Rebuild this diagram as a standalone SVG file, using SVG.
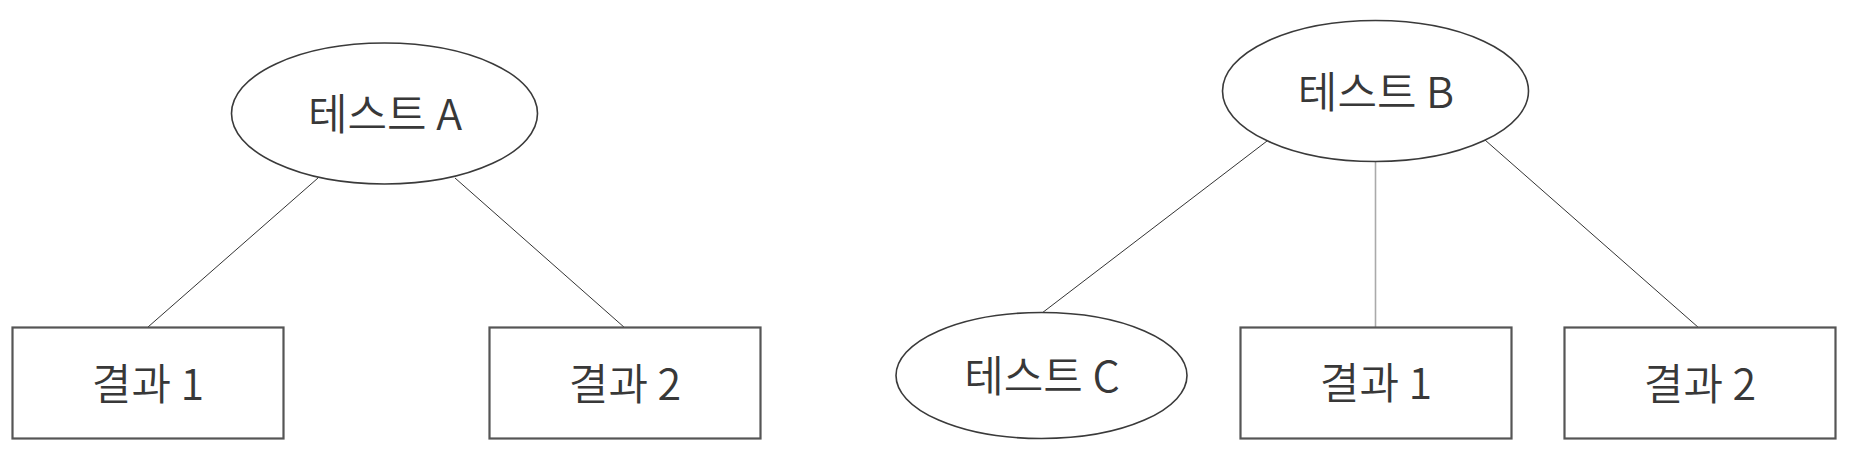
<svg xmlns="http://www.w3.org/2000/svg" width="1852" height="456" viewBox="0 0 1852 456">
<style>
.bg{fill:#ffffff}
.ell{fill:#ffffff;stroke:#3a3a3a;stroke-width:1.6}
.box{fill:#ffffff;stroke:#555555;stroke-width:2.2}
.lbl{font-family:"Noto Sans CJK KR","Noto Sans",sans-serif;font-size:43px;font-weight:350;fill:#383838;text-anchor:middle}
.edge{stroke:#333333;stroke-width:1;fill:none}
.edge-light{stroke:#aaaaaa;stroke-width:1.6;fill:none}
</style>
<rect class="bg" x="0" y="0" width="1852" height="456"/>
<g id="connectors">
<line class="edge" x1="318" y1="178" x2="148" y2="327"/>
<line class="edge" x1="455" y1="178" x2="625" y2="328"/>
<line class="edge" x1="1267" y1="141" x2="1042" y2="313"/>
<line class="edge-light" x1="1375.5" y1="162" x2="1375.5" y2="327"/>
<line class="edge" x1="1485" y1="140" x2="1699" y2="328"/>
</g>
<g id="testA">
<ellipse class="ell" cx="384.5" cy="113.5" rx="153" ry="70.5"/>
<text class="lbl" x="385" y="130">테스트 A</text>
</g>
<g id="resultA1">
<rect class="box" x="12.5" y="327.5" width="271" height="111"/>
<text class="lbl" x="148" y="400">결과 1</text>
</g>
<g id="resultA2">
<rect class="box" x="489.5" y="327.5" width="271" height="111"/>
<text class="lbl" x="625" y="400">결과 2</text>
</g>
<g id="testB">
<ellipse class="ell" cx="1375.5" cy="91" rx="153" ry="70.5"/>
<text class="lbl" x="1376" y="107.5">테스트 B</text>
</g>
<g id="testC">
<ellipse class="ell" cx="1041.5" cy="375.5" rx="145.5" ry="63"/>
<text class="lbl" x="1042" y="392">테스트 C</text>
</g>
<g id="resultB1">
<rect class="box" x="1240.5" y="327.5" width="271" height="111"/>
<text class="lbl" x="1376" y="399">결과 1</text>
</g>
<g id="resultB2">
<rect class="box" x="1564.5" y="327.5" width="271" height="111"/>
<text class="lbl" x="1700" y="400">결과 2</text>
</g>
</svg>
